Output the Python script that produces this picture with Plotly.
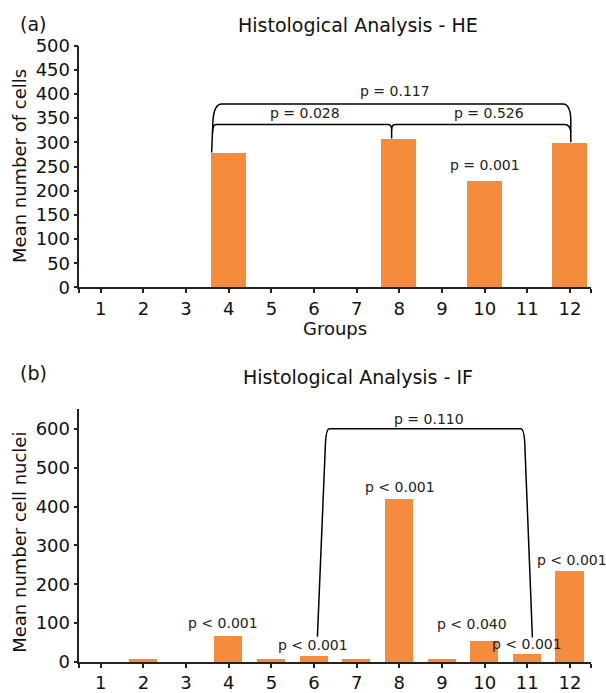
import plotly.graph_objects as go

groups = list(range(1, 13))
he_values = [0, 0, 0, 279, 0, 0, 0, 308, 0, 221, 0, 299]
if_values = [0, 7, 0, 66, 7, 14, 7, 419, 7, 54, 20, 233]
tick_labels = [str(g) for g in groups]

he_pvals = [("p = 0.117", 7.9, 405), ("p = 0.028", 5.78, 360),
            ("p = 0.526", 10.1, 360), ("p = 0.001", 10.0, 254)]
if_pvals = [("p < 0.001", 3.87, 101), ("p < 0.001", 5.98, 44),
            ("p < 0.001", 8.02, 451), ("p < 0.040", 9.71, 98),
            ("p < 0.001", 11.0, 46), ("p < 0.001", 12.04, 262),
            ("p = 0.110", 8.70, 625)]

ORANGE = "#F48B3D"
FONT = "DejaVu Sans"
AX = "#222222"
W, H = 606, 693
K, OFF = 0.974, 8.8


def pfrac(t):
    return 1 - (t / K - OFF) / H


fig = go.Figure()
fig.add_trace(go.Bar(x=groups, y=he_values, width=0.82, marker_color=ORANGE,
                     marker_line_width=0, xaxis="x", yaxis="y", showlegend=False))
fig.add_trace(go.Bar(x=groups, y=if_values, width=0.66, marker_color=ORANGE,
                     marker_line_width=0, xaxis="x2", yaxis="y2", showlegend=False))

xt = [0.5] + groups + [12.5]
xl = [""] + tick_labels + [""]
xcommon = dict(range=[0.5, 12.5], tickvals=xt, ticktext=xl, ticks="outside",
               ticklen=4, tickwidth=1.5, tickcolor=AX, showline=True, linecolor=AX,
               linewidth=1.5, showgrid=False, zeroline=False,
               tickfont=dict(family=FONT, size=18, color="#111"))
ycommon = dict(ticks="outside", ticklen=4, tickwidth=1.5, tickcolor=AX, showline=True,
               linecolor=AX, linewidth=1.5, showgrid=False, zeroline=False,
               tickfont=dict(family=FONT, size=18, color="#111"))

fig.update_layout(
    width=W, height=H, margin=dict(l=0, r=0, t=0, b=0),
    paper_bgcolor="white", plot_bgcolor="white", bargap=0,
    xaxis=dict(domain=[0.131, 0.9757], anchor="y", **xcommon),
    yaxis=dict(domain=[pfrac(286.7), pfrac(43.3)], anchor="x", range=[0, 500],
               tickvals=list(range(0, 501, 50)), **ycommon),
    xaxis2=dict(domain=[0.131, 0.9757], anchor="y2", **xcommon),
    yaxis2=dict(domain=[pfrac(663.5), pfrac(409.3)], anchor="x2", range=[0, 650],
                tickvals=list(range(0, 601, 100)), **ycommon),
)

# brackets (top chart)
L, M, R = 3.6, 7.82, 12.02
H1, H2 = 379, 337
paths_top = [
    f"M {L},279 L {L+0.03},342 Q {L+0.05},{H1} {L+0.24},{H1} L {R-0.18},{H1} "
    f"Q {R-0.02},{H1} {R},349 L {R},300",
    f"M {L+0.02},320 Q {L+0.03},{H2} {L+0.1},{H2} L {M-0.08},{H2} "
    f"Q {M},{H2} {M},326 L {M},308",
    f"M {M},326 Q {M},{H2} {M+0.08},{H2} L {R-0.14},{H2} Q {R-0.02},{H2} {R},322",
]
for p in paths_top:
    fig.add_shape(type="path", path=p, xref="x", yref="y",
                  line=dict(color="black", width=1.5))

# bracket (bottom chart)
BL, BR, BH = 6.08, 11.12, 600
p_bot = (f"M {BL},65 L {BL+0.19},566 Q {BL+0.21},{BH} {BL+0.28},{BH} "
         f"L {BR-0.27},{BH} Q {BR-0.20},{BH} {BR-0.18},566 L {BR},63")
fig.add_shape(type="path", path=p_bot, xref="x2", yref="y2",
              line=dict(color="black", width=1.5))

for txt, x, y in he_pvals:
    fig.add_annotation(text=txt, x=x, y=y, xref="x", yref="y", showarrow=False,
                       font=dict(family=FONT, size=14, color="#222"))
for txt, x, y in if_pvals:
    fig.add_annotation(text=txt, x=x, y=y, xref="x2", yref="y2", showarrow=False,
                       font=dict(family=FONT, size=14, color="#222"))


def pap(txt, x, y, size, angle=0):
    fig.add_annotation(text=txt, x=x / W, y=pfrac(y), xref="paper", yref="paper",
                       showarrow=False, textangle=angle, xanchor="center", yanchor="middle",
                       font=dict(family=FONT, size=size, color="#111"))


pap("(a)", 33, 22, 19)
pap("(b)", 33, 373, 19)
pap("Histological Analysis - HE", 358, 23, 19)
pap("Histological Analysis - IF", 358, 377, 19)
pap("Groups", 335, 328, 18)
pap("Mean number of cells", 19.5, 165, 18, -90)
pap("Mean number cell nuclei", 19.5, 543, 18, -90)

js = ("var s=document.documentElement.style;s.margin='0';s.padding='0';s.overflow='hidden';"
      "var b=document.body.style;b.margin='0';b.padding='0';b.overflow='hidden';"
      "var d=document.getElementById('{plot_id}');d.style.position='fixed';"
      "d.style.top='0px';d.style.left='0px';")
fig.write_html("out.html", config={"displayModeBar": False}, post_script=js)
